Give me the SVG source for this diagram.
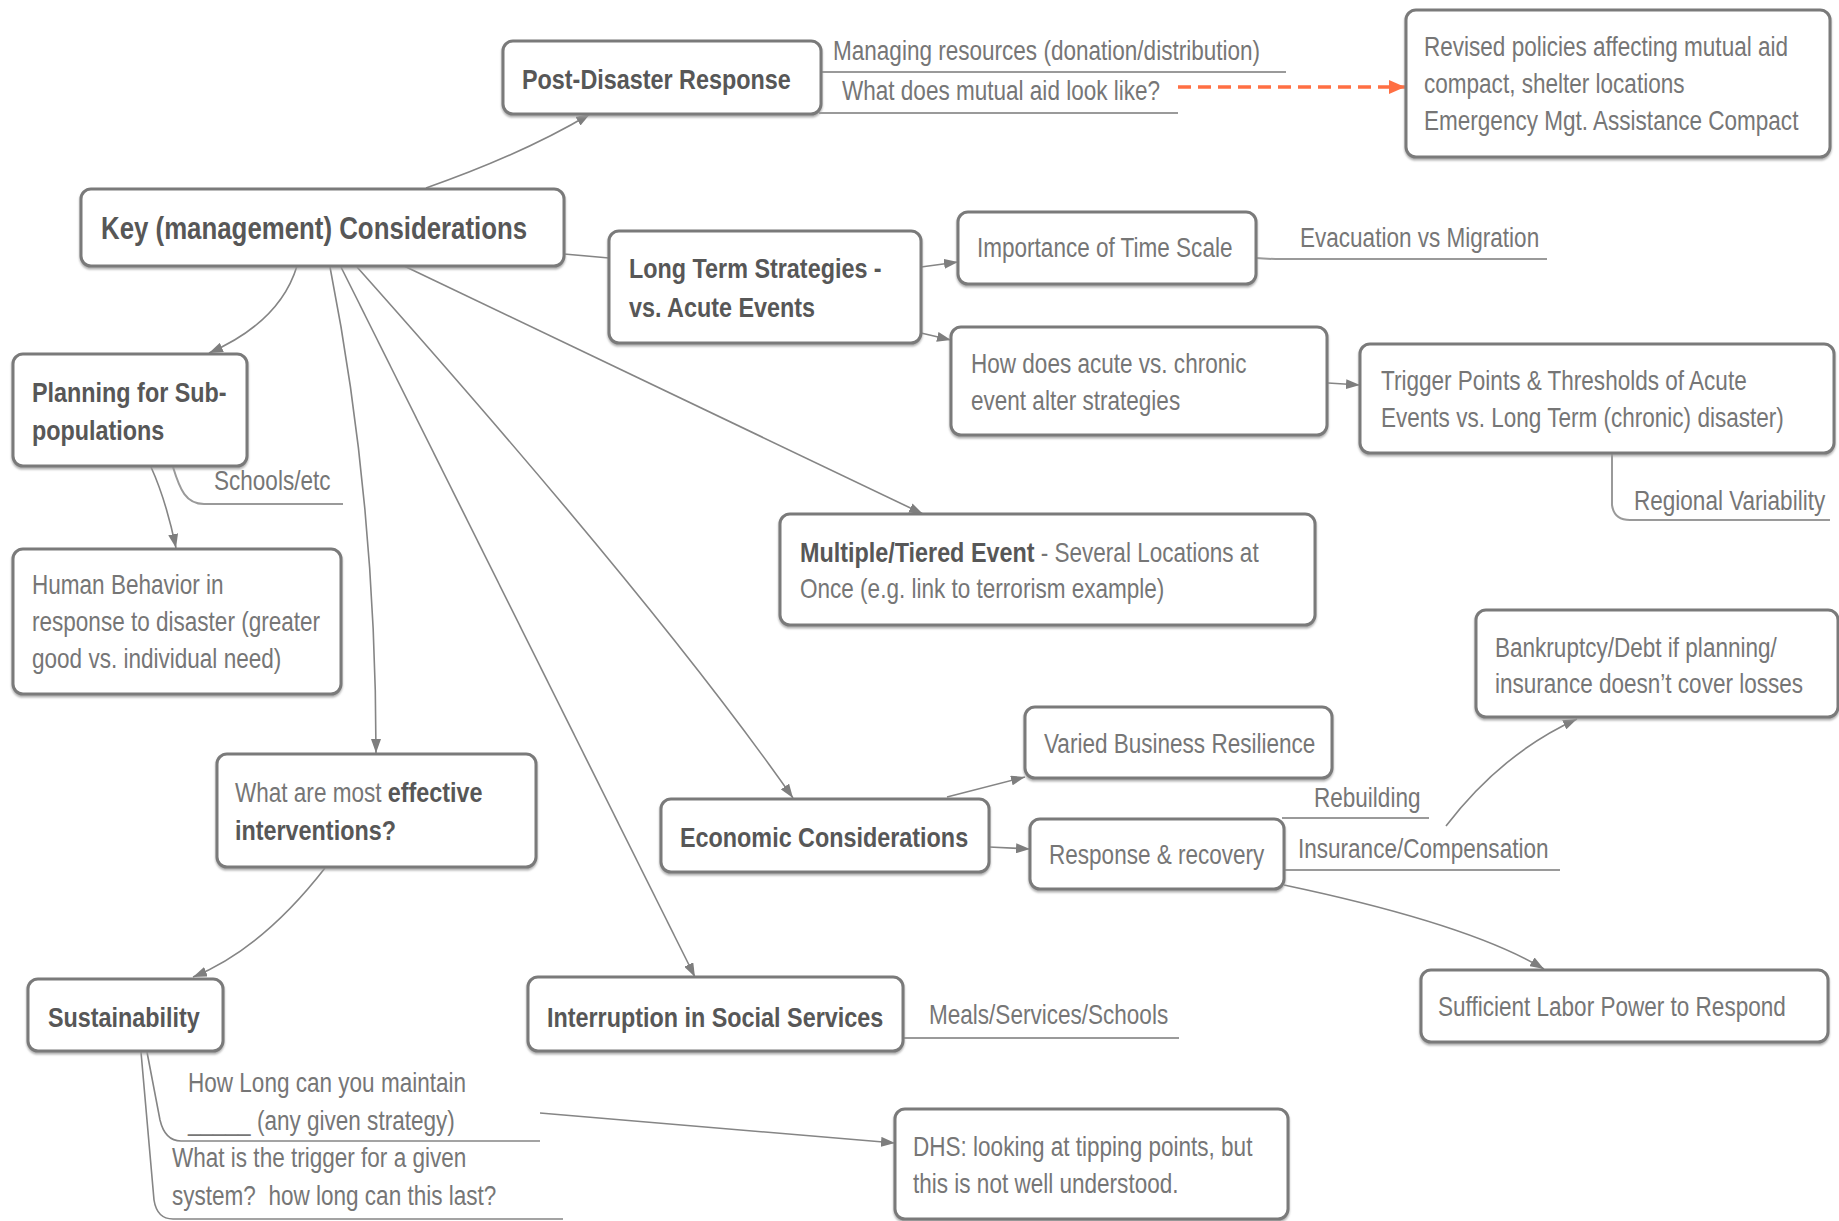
<svg xmlns="http://www.w3.org/2000/svg" width="1839" height="1221" viewBox="0 0 1839 1221">
<defs>
<style>
.box{fill:#fff;stroke:#7a7a7a;stroke-width:3;filter:url(#sh)}
.b{font-family:"Liberation Sans",Arial,sans-serif;font-weight:bold;font-size:28.5px;fill:#575757}
.t{font-family:"Liberation Sans",Arial,sans-serif;font-size:27.5px;fill:#767676}
.tb{font-weight:bold;fill:#575757}
.c{fill:none;stroke:#858585;stroke-width:1.6}
.u{fill:none;stroke:#9a9a9a;stroke-width:2}
.o{fill:none;stroke:#ff6f43;stroke-width:3.5;stroke-dasharray:13 7}
</style>
<filter id="sh" x="-5%" y="-10%" width="110%" height="125%">
<feDropShadow dx="0" dy="2" stdDeviation="1" flood-color="#9a9a9a" flood-opacity="0.8"/>
</filter>
<marker id="ar" viewBox="0 0 14 10" refX="14" refY="5" markerWidth="14" markerHeight="10" markerUnits="userSpaceOnUse" orient="auto">
<path d="M0,0 L14,5 L0,10 z" fill="#7e7e7e"/>
</marker>
<marker id="aro" viewBox="0 0 16 14" refX="16" refY="7" markerWidth="16" markerHeight="14" markerUnits="userSpaceOnUse" orient="auto">
<path d="M0,0 L16,7 L0,14 z" fill="#ff6f43"/>
</marker>
</defs>
<rect width="1839" height="1221" fill="#fff"/>

<g id="connectors">
<path class="c" d="M426 188 Q523 154 590 114" marker-end="url(#ar)"/>
<path class="c" d="M564 254 L609 258"/>
<path class="c" d="M921 267 L958 262" marker-end="url(#ar)"/>
<path class="c" d="M921 333 L951 340" marker-end="url(#ar)"/>
<path class="c" d="M1328 383 L1360 385" marker-end="url(#ar)"/>
<path class="c" d="M297 266 Q280 322 209 353" marker-end="url(#ar)"/>
<path class="c" d="M151 467 Q166 500 176 548" marker-end="url(#ar)"/>
<path class="c" d="M330 267 Q376 500 376 753" marker-end="url(#ar)"/>
<path class="c" d="M341 267 L695 977" marker-end="url(#ar)"/>
<path class="c" d="M357 267 Q658 605 793 798" marker-end="url(#ar)"/>
<path class="c" d="M402 265 L923 514" marker-end="url(#ar)"/>
<path class="c" d="M325 868 Q262 949 193 977" marker-end="url(#ar)"/>
<path class="c" d="M947 797 L1025 777" marker-end="url(#ar)"/>
<path class="c" d="M989 847 L1030 849" marker-end="url(#ar)"/>
<path class="c" d="M1284 885 Q1469 924 1544 969" marker-end="url(#ar)"/>
<path class="c" d="M1446 826 Q1502 753 1577 719" marker-end="url(#ar)"/>
<path class="c" d="M540 1113 L895 1143" marker-end="url(#ar)"/>
<path class="o" d="M1178 87 L1405 87" marker-end="url(#aro)"/>
<path class="u" d="M821 72 L1286 72"/>
<path class="u" d="M819 113 L1178 113"/>
<path class="u" d="M1256 258 Q1266 259 1282 259 L1547 259"/>
<path class="u" d="M1612 453 L1612 505 Q1614 520 1630 520 L1830 520"/>
<path class="u" d="M173 467 C180 490 186 504 204 504 L343 504"/>
<path class="u" d="M1282 818 L1429 818"/>
<path class="u" d="M1284 870 L1560 870"/>
<path class="u" d="M903 1038 L1179 1038"/>
<path class="c" d="M147 1052 L160 1120 Q165 1141 181 1141 L540 1141"/>
<path class="c" d="M141 1052 L154 1200 Q157 1219 173 1219 L563 1219"/>
</g>

<g id="post-disaster"><rect class="box" x="503" y="41" width="318" height="73" rx="10"/><text class="b" transform="translate(522 89) scale(0.82 1)">Post-Disaster Response</text></g>
<g id="key"><rect class="box" x="81" y="189" width="483" height="77" rx="10"/><text class="b" transform="translate(101 239) scale(0.82 1)" style="font-size:31.5px">Key (management) Considerations</text></g>
<g id="long-term"><rect class="box" x="609" y="231" width="312" height="112" rx="10"/><text class="b" transform="translate(629 278) scale(0.82 1)">Long Term Strategies -</text><text class="b" transform="translate(629 317) scale(0.82 1)">vs. Acute Events</text></g>
<g id="time-scale"><rect class="box" x="958" y="212" width="298" height="72" rx="10"/><text class="t" transform="translate(977 257) scale(0.82 1)">Importance of Time Scale</text></g>
<g id="acute-chronic"><rect class="box" x="951" y="327" width="376" height="108" rx="10"/><text class="t" transform="translate(971 373) scale(0.82 1)">How does acute vs. chronic</text><text class="t" transform="translate(971 410) scale(0.82 1)">event alter strategies</text></g>
<g id="trigger-points"><rect class="box" x="1360" y="344" width="474" height="109" rx="10"/><text class="t" transform="translate(1381 390) scale(0.82 1)">Trigger Points &amp; Thresholds of Acute</text><text class="t" transform="translate(1381 427) scale(0.82 1)">Events vs. Long Term (chronic) disaster)</text></g>
<g id="revised-policies"><rect class="box" x="1406" y="10" width="424" height="147" rx="10"/><text class="t" transform="translate(1424 56) scale(0.82 1)">Revised policies affecting mutual aid</text><text class="t" transform="translate(1424 93) scale(0.82 1)">compact, shelter locations</text><text class="t" transform="translate(1424 130) scale(0.82 1)">Emergency Mgt. Assistance Compact</text></g>
<g id="planning"><rect class="box" x="13" y="354" width="234" height="112" rx="10"/><text class="b" transform="translate(32 402) scale(0.82 1)">Planning for Sub-</text><text class="b" transform="translate(32 440) scale(0.82 1)">populations</text></g>
<g id="human-behavior"><rect class="box" x="13" y="549" width="328" height="145" rx="10"/><text class="t" transform="translate(32 594) scale(0.82 1)">Human Behavior in</text><text class="t" transform="translate(32 631) scale(0.82 1)">response to disaster (greater</text><text class="t" transform="translate(32 668) scale(0.82 1)">good vs. individual need)</text></g>
<g id="multiple"><rect class="box" x="780" y="514" width="535" height="111" rx="10"/><text class="t" transform="translate(800 562) scale(0.82 1)"><tspan class="tb" style="font-size:28.5px">Multiple/Tiered Event</tspan> - Several Locations at</text><text class="t" transform="translate(800 598) scale(0.82 1)">Once (e.g. link to terrorism example)</text></g>
<g id="bankruptcy"><rect class="box" x="1476" y="610" width="362" height="107" rx="10"/><text class="t" transform="translate(1495 657) scale(0.82 1)">Bankruptcy/Debt if planning/</text><text class="t" transform="translate(1495 693) scale(0.82 1)">insurance doesn’t cover losses</text></g>
<g id="varied-business"><rect class="box" x="1025" y="707" width="307" height="71" rx="10"/><text class="t" transform="translate(1044 753) scale(0.82 1)">Varied Business Resilience</text></g>
<g id="interventions"><rect class="box" x="217" y="754" width="319" height="113" rx="10"/><text class="t" transform="translate(235 802) scale(0.82 1)">What are most <tspan class="tb" style="font-size:28.5px">effective</tspan></text><text class="b" transform="translate(235 840) scale(0.82 1)">interventions?</text></g>
<g id="economic"><rect class="box" x="661" y="799" width="328" height="73" rx="10"/><text class="b" transform="translate(680 847) scale(0.82 1)">Economic Considerations</text></g>
<g id="response-recovery"><rect class="box" x="1030" y="819" width="254" height="70" rx="10"/><text class="t" transform="translate(1049 864) scale(0.82 1)">Response &amp; recovery</text></g>
<g id="sustainability"><rect class="box" x="28" y="979" width="195" height="72" rx="10"/><text class="b" transform="translate(48 1027) scale(0.82 1)">Sustainability</text></g>
<g id="social-services"><rect class="box" x="528" y="977" width="375" height="74" rx="10"/><text class="b" transform="translate(547 1027) scale(0.82 1)">Interruption in Social Services</text></g>
<g id="labor-power"><rect class="box" x="1421" y="970" width="407" height="72" rx="10"/><text class="t" transform="translate(1438 1016) scale(0.82 1)">Sufficient Labor Power to Respond</text></g>
<g id="dhs"><rect class="box" x="895" y="1109" width="393" height="110" rx="10"/><text class="t" transform="translate(913 1156) scale(0.82 1)">DHS: looking at tipping points, but</text><text class="t" transform="translate(913 1193) scale(0.82 1)">this is not well understood.</text></g>

<g id="labels">
<text class="t" transform="translate(833 60) scale(0.82 1)">Managing resources (donation/distribution)</text>
<text class="t" transform="translate(842 100) scale(0.82 1)">What does mutual aid look like?</text>
<text class="t" transform="translate(1300 247) scale(0.82 1)">Evacuation vs Migration</text>
<text class="t" transform="translate(1634 510) scale(0.82 1)">Regional Variability</text>
<text class="t" transform="translate(214 490) scale(0.82 1)">Schools/etc</text>
<text class="t" transform="translate(1314 807) scale(0.82 1)">Rebuilding</text>
<text class="t" transform="translate(1298 858) scale(0.82 1)">Insurance/Compensation</text>
<text class="t" transform="translate(929 1024) scale(0.82 1)">Meals/Services/Schools</text>
<text class="t" transform="translate(188 1092) scale(0.82 1)">How Long can you maintain</text>
<text class="t" transform="translate(188 1130) scale(0.82 1)">_____ (any given strategy)</text>
<text class="t" transform="translate(172 1167) scale(0.82 1)">What is the trigger for a given</text>
<text class="t" transform="translate(172 1205) scale(0.82 1)" style="white-space:pre">system?  how long can this last?</text>
</g>
</svg>
